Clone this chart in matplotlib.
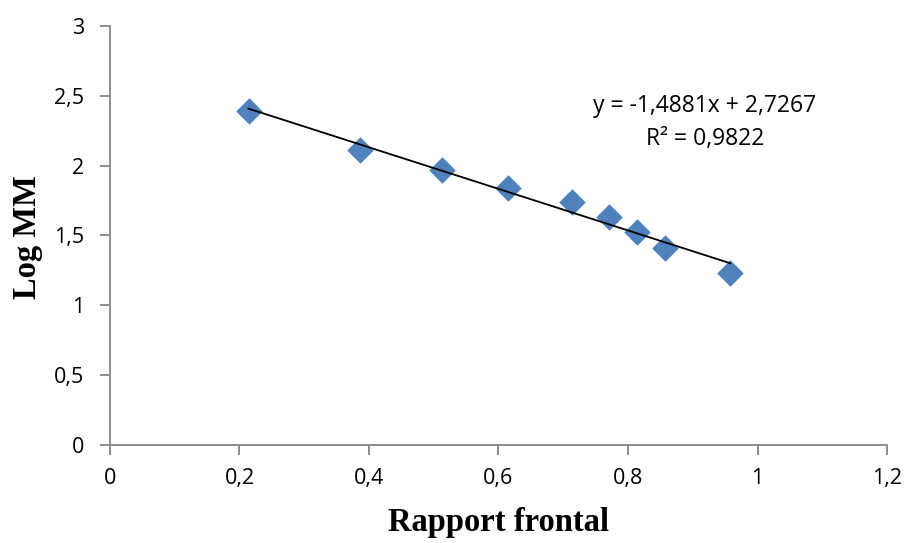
import matplotlib

matplotlib.use("Agg")
import matplotlib.pyplot as plt
import numpy as np

# data
rapport_frontal = [0.214, 0.386, 0.513, 0.614, 0.714, 0.771, 0.814, 0.857, 0.958]
log_mm = [2.391, 2.112, 1.968, 1.837, 1.737, 1.630, 1.522, 1.408, 1.229]
slope = -1.4881
intercept = 2.7267
r_squared = 0.9822
x_ticks = [0, 0.2, 0.4, 0.6, 0.8, 1.0, 1.2]
y_ticks = [0, 0.5, 1.0, 1.5, 2.0, 2.5, 3.0]

MARKER_BLUE = "#4F81BD"
AXIS_GRAY = "#868686"
TICK_FONT = ["Open Sans", "DejaVu Sans"]
LABEL_FONT = ["Liberation Serif", "DejaVu Serif"]


def fr(v):
    # comma as decimal separator, as in the source
    return f"{v:g}".replace(".", ",")


fig = plt.figure(figsize=(9.08, 5.43), dpi=100)
ax = fig.add_axes([0.1211, 0.1805, 0.8558, 0.7716])

x = np.array(rapport_frontal)
y = np.array(log_mm)
ax.scatter(x, y, marker="D", s=13.5 ** 2, color=MARKER_BLUE, zorder=2, linewidths=0)

xs = np.array([x.min(), x.max()])
ax.plot(xs, slope * xs + intercept, color="black", linewidth=1.3, zorder=3)

eq = f"y = {fr(slope)}x + {fr(intercept)}\nR² = {fr(r_squared)}"
ax.text(0.919, 2.31, eq, ha="center", va="center", multialignment="center",
        fontsize=16.5, family=TICK_FONT, linespacing=1.5)

ax.set_xlim(0, 1.2)
ax.set_ylim(0, 3)
ax.set_xticks(x_ticks)
ax.set_yticks(y_ticks)
ax.set_xticklabels([fr(t) for t in x_ticks], family=TICK_FONT, fontsize=15.5)
ax.set_yticklabels([fr(t) for t in y_ticks], family=TICK_FONT, fontsize=15.5)
ax.tick_params(direction="out", length=7.5, width=1.3, color=AXIS_GRAY, pad=11)
ax.tick_params(axis="x", pad=9)

for side in ("top", "right"):
    ax.spines[side].set_visible(False)
for side in ("left", "bottom"):
    ax.spines[side].set_color(AXIS_GRAY)
    ax.spines[side].set_linewidth(1.3)

ax.set_xlabel("Rapport frontal", family=LABEL_FONT, fontsize=23.5, fontweight="bold")
ax.set_ylabel("Log MM", family=LABEL_FONT, fontsize=23.5, fontweight="bold")
ax.xaxis.label.set_va("center")
ax.yaxis.label.set_va("center")
ax.xaxis.set_label_coords(0.4994, -0.184)
ax.yaxis.set_label_coords(-0.1055, 0.496)

fig.savefig("out.png", dpi=100)
